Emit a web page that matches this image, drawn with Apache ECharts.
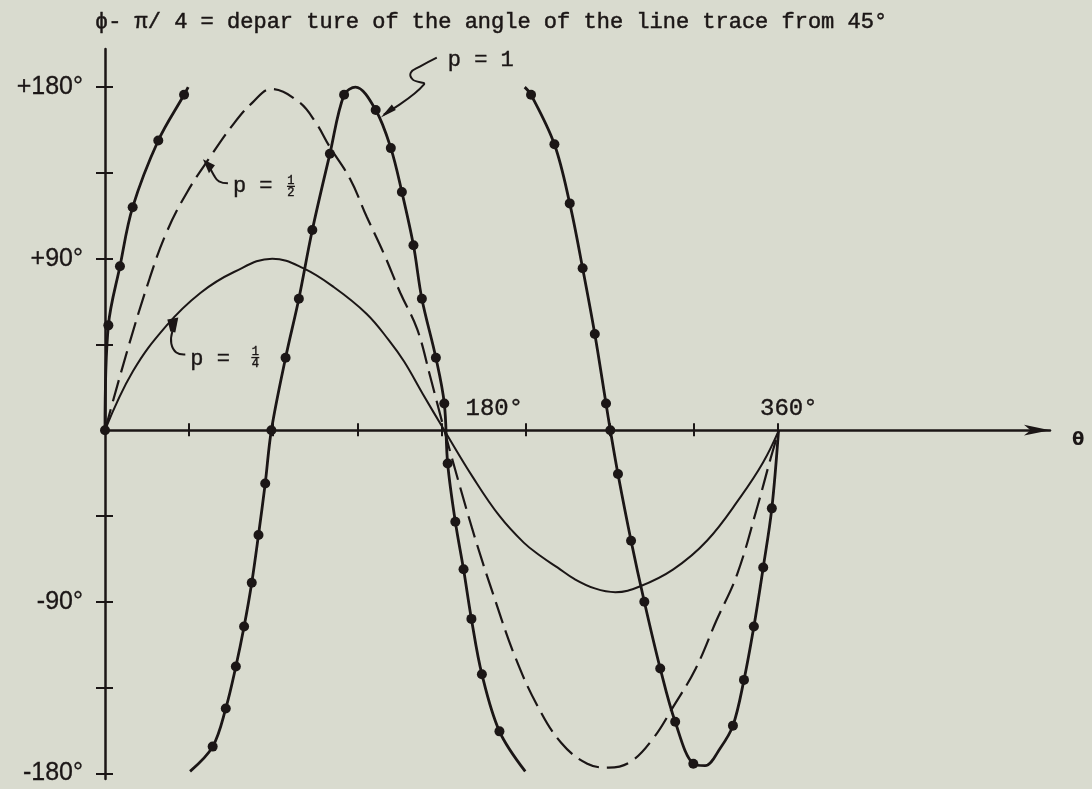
<!DOCTYPE html>
<html>
<head>
<meta charset="utf-8">
<script src="https://cdn.jsdelivr.net/npm/echarts@6.0.0/dist/echarts.min.js"></script>
<style>
  html, body { margin: 0; padding: 0; background: #d9dbcf; }
  #chart { width: 1092px; height: 789px; }
</style>
</head>
<body>
<div id="chart"></div>
<script>
// θ (degrees) and the departure φ − π/4 (degrees) for three values of p.
// p = 1 wraps at ±180°, so its list is split into pieces by nulls.
const P1_THETA = [0, 1.8, 8, 14.8, 28.5, 42.3, 44.5, null,
  45.5, 57.6, 64.6, 70, 74.4, 78.5, 82.1, 85.7, 89, 96.6, 103.7, 110.9, 120.3, 127.9, 134,
  144.8, 152.9, 158.8, 165, 169.5, 177, 181.5, 183.3, 187.4, 191.8, 196, 201.6, 211, 224.8, null,
  224.5, 227.9, 240.4, 248.6, 255.5, 262, 268, 270.3, 274.4, 281.4, 288.5, 297, 305, 314.7,
  321, 329, 335.9, 341.8, 347.1, 352.1, 356.7, 360.3];
const P1_VALUE = [0, 55, 86, 117, 152, 176, 180, null,
  -179, -166, -146, -124, -103, -80, -55, -28, 0, 38, 69, 105, 145, 176, 180,
  168, 148, 125, 97, 69, 38, 14, -17.5, -48, -73, -99, -128, -158, -179, null,
  180, 176, 150, 119, 85, 50.5, 14, 0, -23, -58, -90, -125, -153, -175,
  -176, -167, -155, -131, -103, -72, -41, 0];
// 1 where a computed point is marked with a dot
const P1_DOT = [1, 1, 1, 1, 1, 1, 0, 0,
  0, 1, 1, 1, 1, 1, 1, 1, 1, 1, 1, 1, 1, 1, 0,
  1, 1, 1, 1, 1, 1, 1, 1, 1, 1, 1, 1, 1, 0, 0,
  0, 1, 1, 1, 1, 1, 1, 1, 1, 1, 1, 1, 1, 1,
  0, 0, 1, 1, 1, 1, 1, 0];

const HALF_THETA = [0, 12, 24, 33, 44, 56, 69, 79, 89, 104, 113, 120, 131, 140, 149, 158, 167, 174, 181.5,
  190, 199, 209, 219, 231, 244, 258, 269.5, 281, 293, 304, 316, 327, 338, 349, 356, 360.5];
const HALF_VALUE = [0, 42, 80, 104, 125, 143, 161, 172, 179, 172, 161, 149, 132, 112, 93, 72, 53, 28, 0,
  -30, -60, -90, -118, -144, -164, -175, -177, -174, -162, -145, -125, -100, -76, -40, -15, 0];

const QUARTER_THETA = [0, 15, 33, 51, 69, 89.5, 106, 122.5, 140, 152, 160, 170, 181.5,
  197, 211, 224, 233, 242, 251, 262, 273, 286, 304, 322, 340, 352, 360.5];
const QUARTER_VALUE = [0, 31, 55, 72, 83, 90, 85, 75, 61, 47, 36, 19, 0,
  -25, -45, -59, -66, -72, -78, -83, -85, -82, -73, -58, -35, -17, 0];

// axis ticks and labelled values
const THETA_TICKS = [45, 90, 135, 180, 225, 270, 315, 360];
const THETA_LABELS = [180, 360];
const DEP_TICKS = [-180, -135, -90, -45, 45, 90, 135, 180];
const DEP_LABELS = [-180, -90, 90, 180];

const TITLE = 'ϕ- π/ 4 = depar ture of the angle of the line trace from 45°';

const INK = '#1b1616';
const BG = '#d9dbcf';
const MONO = '"Liberation Mono", "DejaVu Sans Mono", monospace';
const SANS = '"Liberation Sans", Arial, sans-serif';

const pairs = (xs, ys) => xs.map((x, i) => (x === null ? ['-', '-'] : [x, ys[i]]));
const p1Data = P1_THETA.map((x, i) => x === null
  ? ['-', '-']
  : { value: [x, P1_VALUE[i]], symbol: P1_DOT[i] ? 'circle' : 'none' });

const chart = echarts.init(document.getElementById('chart'), null, { renderer: 'canvas' });

const X_MAX = 505.5;
const Y_MIN = -183, Y_MAX = 200;

const baseX = {
  type: 'value', min: 0, max: X_MAX, position: 'bottom',
  splitLine: { show: false }
};
const baseY = {
  type: 'value', min: Y_MIN, max: Y_MAX, position: 'left',
  splitLine: { show: false }
};

chart.setOption({
  animation: false,
  backgroundColor: BG,
  title: {
    text: TITLE, left: 95, top: 11, padding: 0,
    textStyle: {
      fontFamily: MONO, fontSize: 22, fontWeight: 'normal', color: INK,
      textBorderColor: INK, textBorderWidth: 0.5
    }
  },
  grid: { left: 105, right: 42, top: 49, bottom: 10, outerBoundsMode: 'none', containLabel: false },
  xAxis: [
    Object.assign({}, baseX, {
      axisLine: {
        onZero: true, onZeroAxisIndex: 0,
        lineStyle: { color: INK, width: 2.5 },
        symbol: ['none', 'arrow'], symbolSize: [8, 26]
      },
      axisTick: { show: true, customValues: THETA_TICKS, length: 6, lineStyle: { color: INK, width: 2 } },
      axisLabel: { show: false },
      name: 'θ', nameLocation: 'end', nameGap: 22,
      nameTextStyle: {
        fontFamily: '"DejaVu Sans", sans-serif', fontWeight: 'bold', fontSize: 18,
        color: INK, align: 'left', verticalAlign: 'top', lineHeight: 20
      }
    }),
    Object.assign({}, baseX, {
      axisLine: { show: false, onZero: true, onZeroAxisIndex: 0 },
      axisTick: { show: true, inside: true, customValues: THETA_TICKS, length: 7, lineStyle: { color: INK, width: 2 } },
      axisLabel: { show: false }
    })
  ],
  yAxis: [
    Object.assign({}, baseY, {
      axisLine: { onZero: true, onZeroAxisIndex: 0, lineStyle: { color: INK, width: 2.5 } },
      axisTick: { show: true, customValues: DEP_TICKS, length: 9, lineStyle: { color: INK, width: 2 } },
      axisLabel: {
        show: true, customValues: DEP_LABELS, margin: 22,
        color: INK, fontFamily: SANS, fontSize: 25,
        textBorderColor: INK, textBorderWidth: 0.3,
        formatter: v => (v > 0 ? '+' : '') + v + '°'
      }
    }),
    Object.assign({}, baseY, {
      axisLine: { show: false, onZero: true, onZeroAxisIndex: 0 },
      axisTick: { show: true, inside: true, customValues: DEP_TICKS, length: 8, lineStyle: { color: INK, width: 2 } },
      axisLabel: { show: false }
    })
  ],
  series: [
    {
      name: 'p = 1/4', type: 'line', xAxisIndex: 0, yAxisIndex: 0,
      data: pairs(QUARTER_THETA, QUARTER_VALUE),
      smooth: 0.4, showSymbol: false, silent: true,
      lineStyle: { color: INK, width: 2 }, emphasis: { disabled: true }, z: 3
    },
    {
      name: 'p = 1/2', type: 'line', xAxisIndex: 0, yAxisIndex: 0,
      data: pairs(HALF_THETA, HALF_VALUE),
      smooth: 0.4, showSymbol: false, silent: true,
      lineStyle: { color: INK, width: 2.2, type: [22, 8] }, emphasis: { disabled: true }, z: 3
    },
    {
      name: 'p = 1', type: 'line', xAxisIndex: 0, yAxisIndex: 0,
      data: p1Data, connectNulls: false,
      smooth: 0.35, showSymbol: true, showAllSymbol: true,
      symbol: 'circle', symbolSize: 10, silent: true,
      itemStyle: { color: INK }, lineStyle: { color: INK, width: 2.8 },
      emphasis: { disabled: true }, z: 4
    }
  ]
});

// Curve labels with their hooked pointers, anchored to a point on each curve.
const NOTE_P1 = [147, 164];
const NOTE_HALF = [54, 140];
const NOTE_QUARTER = [36, 57];

const toPx = pt => chart.convertToPixel({ seriesIndex: 0 }, pt);
const txt = (text, x, y, size, align, family) => ({
  type: 'text', x: x, y: y, silent: true,
  style: {
    text: text, fill: INK, font: size + 'px ' + (family || MONO),
    stroke: INK, lineWidth: 0.4,
    align: align || 'left', verticalAlign: 'middle',
    textAlign: align || 'left', textVerticalAlign: 'middle'
  }
});
const fraction = (num, den, cx, cy) => [
  txt(num, cx, cy - 6, 12, 'center'),
  { type: 'line', silent: true, shape: { x1: cx - 4, y1: cy, x2: cx + 4, y2: cy }, style: { stroke: INK, lineWidth: 1.3 } },
  txt(den, cx, cy + 6, 12, 'center')
];
const hook = pts => ({ type: 'polyline', silent: true, shape: { points: pts, smooth: 0.45 },
  style: { stroke: INK, lineWidth: 2, fill: null } });
const blob = pts => ({ type: 'polygon', silent: true, shape: { points: pts }, style: { fill: INK } });
const note = (anchor, children) => {
  const p = toPx(anchor);
  return { type: 'group', x: p[0], y: p[1], silent: true, children: children };
};

// degree labels on the θ axis, set just above the axis line
const thetaLabels = THETA_LABELS.map(v => {
  const p = toPx([v, 0]);
  return txt(v + '°', p[0] + (v === 180 ? 24 : -18), p[1] - 22, 24);
});

chart.setOption({
  graphic: thetaLabels.concat([
    note(NOTE_P1, [
      hook([[57, -60], [40, -51], [31, -45], [33, -38], [44, -33], [4, -3]]),
      blob([[1, 0], [16, -7.5], [12, -13]]),
      txt('p = 1', 68, -57, 22)
    ]),
    note(NOTE_HALF, [
      hook([[22, 20], [13, 18], [8, 12], [4, 4]]),
      blob([[-3, -4], [9, 2], [3, 10]]),
      txt('p =', 27, 23, 22)
    ].concat(fraction('1', '2', 85, 23))),
    note(NOTE_QUARTER, [
      hook([[13, 33], [4, 31], [-1, 22], [0, 10]]),
      blob([[-5, -2], [6, -4], [3, 11], [-2, 10]]),
      txt('p =', 18, 38, 22)
    ].concat(fraction('1', '4', 83, 36)))
  ])
});
</script>
</body>
</html>
